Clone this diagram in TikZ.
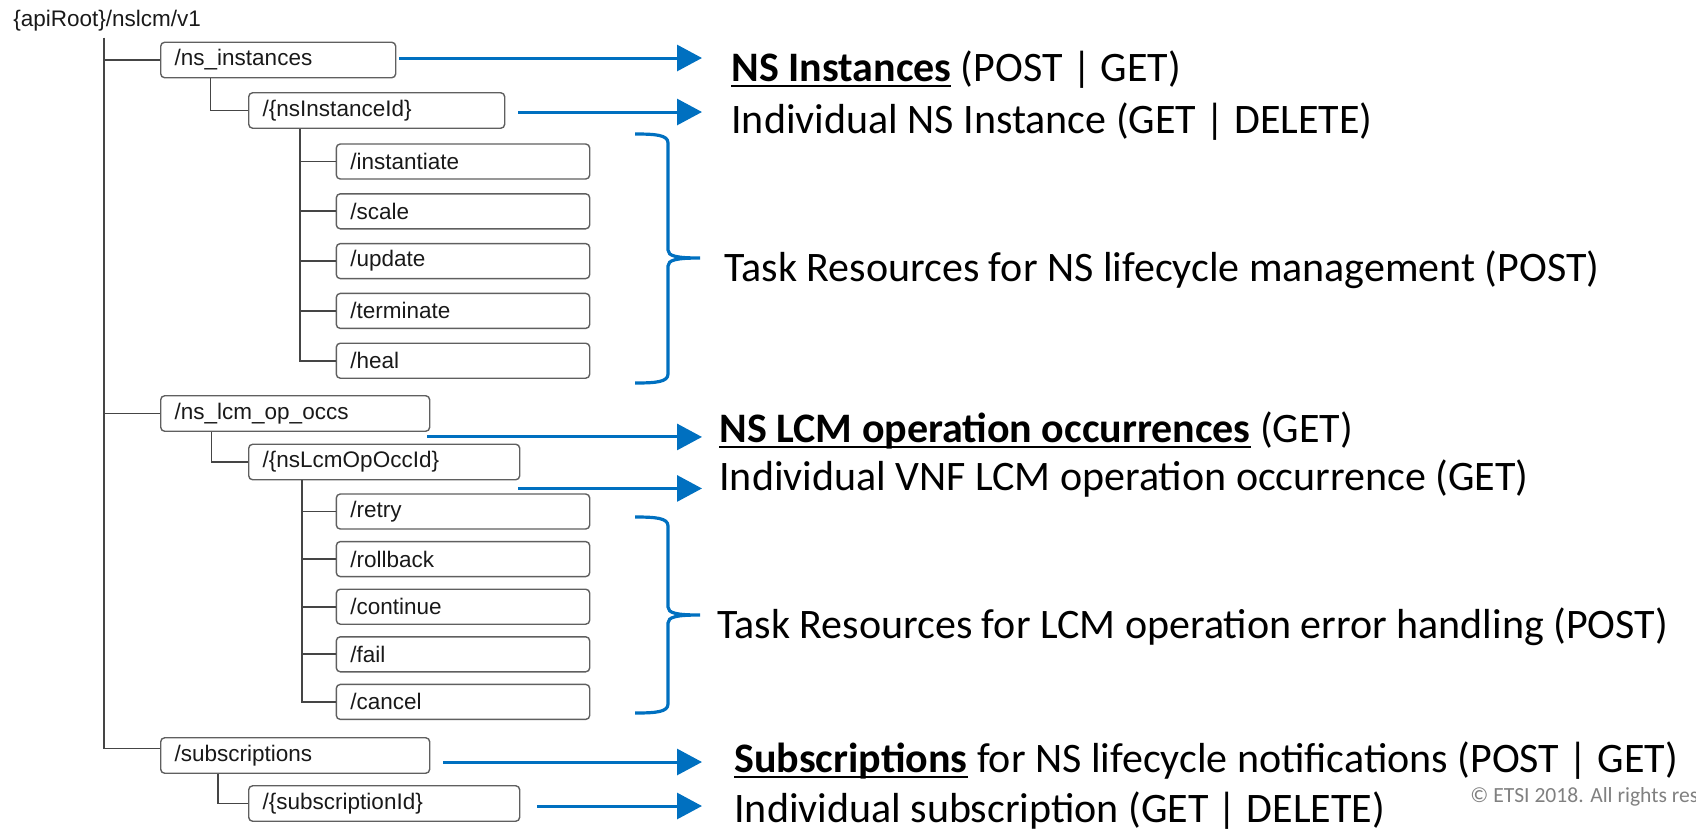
\documentclass[tikz,border=0pt]{standalone}
\usepackage{fontspec}
\usepackage{tikz}
\usetikzlibrary{positioning}
\usetikzlibrary{arrows.meta}
\newfontfamily\arialfont{Liberation Sans}
\newfontfamily\calibrifont{Carlito}
\definecolor{etsiblue}{HTML}{0070C0}
\definecolor{treegray}{HTML}{454545}
\definecolor{boxgray}{HTML}{5F5F5F}
\newcommand\uword[1]{\setbox0\hbox{#1}\rlap{\rule[-3pt]{\wd0}{1pt}}\box0{}}
\tikzset{
  uri/.style       = { rectangle, draw=boxgray, line width=.7pt, rounded corners=2pt,
                       inner xsep=7pt, inner ysep=0pt, minimum height=17.75pt,
                       align=left, anchor=west, text=black!90,
                       font=\arialfont\fontsize{11.25}{13}\selectfont },
  task/.style      = { uri, text width=112.7pt, minimum height=17.5pt },
  rootpath/.style  = { anchor=west, inner xsep=0pt, inner ysep=3pt, text=black!90,
                       font=\arialfont\fontsize{11.25}{13}\selectfont },
  desc/.style      = { anchor=base west, inner sep=0pt,
                       font=\calibrifont\fontsize{21}{25}\selectfont },
  note/.style      = { anchor=base west, inner sep=0pt, text=black!50,
                       font=\calibrifont\fontsize{10.8}{13}\selectfont },
  flow/.style      = { ->, draw=etsiblue, line width=1.5pt },
  taskbrace/.style = { draw=etsiblue, line width=1.6pt },
}

\begin{document}
\begin{tikzpicture}[
  x=0.5pt, y=-0.5pt,
  >={Triangle[length=12.5pt,width=13pt]},
  treeline/.style={draw=treegray, line width=.85pt}
]
  \useasboundingbox (0,0) rectangle (1696,831);
  \clip (0,0) rectangle (1696,831);

  \node (api)      [rootpath]                    at (13,21)       {\{apiRoot\}/nslcm/v1};

  \node (nsinst)   [uri,text width=103.5pt]      at (160,60)      {/ns\_instances};
  \node (nsinstid) [uri,text width=114pt]        at (248,110.5)   {/\{nsInstanceId\}};
  \node (inst)     [task]                        at (335.6,161.5) {/instantiate};
  \node (scale)    [task,below=6.7pt of inst]                     {/scale};
  \node (update)   [task,below=6.7pt of scale]                    {/update};
  \node (term)     [task,below=6.7pt of update]                   {/terminate};
  \node (heal)     [task,below=6.7pt of term]                     {/heal};

  \node (opocc)    [uri,text width=120.5pt]      at (160,413.5)   {/ns\_lcm\_op\_occs};
  \node (opoccid)  [uri,text width=121.5pt]      at (248,462)     {/\{nsLcmOpOccId\}};
  \node (retry)    [task]                        at (335.6,511.5) {/retry};
  \node (rollback) [task,below=5.6pt of retry]                    {/rollback};
  \node (cont)     [task,below=5.6pt of rollback]                 {/continue};
  \node (fail)     [task,below=5.6pt of cont]                     {/fail};
  \node (cancel)   [task,below=5.6pt of fail]                     {/cancel};

  \node (subs)     [uri,text width=120.5pt]      at (160,755.5)   {/subscriptions};
  \node (subsid)   [uri,text width=121.5pt]      at (248,803.5)   {/\{subscriptionId\}};

  \draw [treeline] ([xshift=-1.5pt]api.south) |- (nsinst.west);
  \draw [treeline] ([xshift=-1.5pt]api.south) |- (opocc.west);
  \draw [treeline] ([xshift=-1.5pt]api.south) |- ([yshift=3.5pt]subs.west);
  \draw [treeline] ([xshift=25.25pt]nsinst.south west) |- (nsinstid.west);
  \draw [treeline] ([xshift=25.75pt]opocc.south west)  |- (opoccid.west);
  \draw [treeline] ([xshift=29pt]subs.south west)      |- (subsid.west);
  \foreach \leaf in {inst,scale,update,term,heal}
    \draw [treeline] ([xshift=26pt]nsinstid.south west) |- (\leaf.west);
  \foreach \leaf in {retry,rollback,cont,fail,cancel}
    \draw [treeline] ([xshift=27pt]opoccid.south west) |- (\leaf.west);

  \node (tinst)    [desc] at (731,81)  {\uword{\bfseries NS Instances} (POST | GET)};
  \node (tinstid)  [desc] at (731,133) {Individual NS Instance (GET | DELETE)};
  \node (tnstask)  [desc] at (724,281) {Task Resources for NS lifecycle management (POST)};
  \node (topocc)   [desc] at (719,442) {\uword{\bfseries NS LCM operation occurrences} (GET)};
  \node (topoccid) [desc] at (719,490) {Individual VNF LCM operation occurrence (GET)};
  \node (toptask)  [desc] at (717,638) {Task Resources for LCM operation error handling (POST)};
  \node (tsubs)    [desc] at (734,772) {\uword{\bfseries Subscriptions} for NS lifecycle notifications (POST | GET)};
  \node (tsubsid)  [desc] at (734,822) {Individual subscription (GET | DELETE)};
  \node (copy)     [note] at (1470,802) {© ETSI 2018. All rights res};

  \coordinate (tips) at (702,0);
  \draw [flow] ([shift={(1.5pt,1pt)}]nsinst.east)        -- ([yshift=1pt]tips |- nsinst.east);
  \draw [flow] ([shift={(6.5pt,-.75pt)}]nsinstid.east)   -- ([yshift=-.75pt]tips |- nsinstid.east);
  \draw [flow] ([shift={(-1.5pt,-2.5pt)}]opocc.south east) -- ([yshift=-2.5pt]tips |- opocc.south east);
  \draw [flow] ([shift={(-1pt,-4pt)}]opoccid.south east) -- ([yshift=-4pt]tips |- opoccid.south east);
  \draw [flow] ([shift={(6.5pt,-3.25pt)}]subs.east)      -- ([yshift=-3.25pt]tips |- subs.east);
  \draw [flow] ([shift={(8.5pt,-1.25pt)}]subsid.east)    -- ([yshift=-1.25pt]tips |- subsid.east);

  \draw [taskbrace] (635,134) .. controls (656,134) and (668,135) .. (668,143)
                    -- (668,250) .. controls (668,256) and (676,258) .. (700,258)
                    .. controls (676,258) and (668,260) .. (668,266)
                    -- (668,374) .. controls (668,382) and (656,383) .. (635,383);
  \draw [taskbrace] (635,517) .. controls (656,517) and (668,518) .. (668,526)
                    -- (668,607) .. controls (668,613) and (676,615) .. (700,615)
                    .. controls (676,615) and (668,617) .. (668,623)
                    -- (668,704) .. controls (668,712) and (656,713) .. (635,713);
\end{tikzpicture}
\end{document}
